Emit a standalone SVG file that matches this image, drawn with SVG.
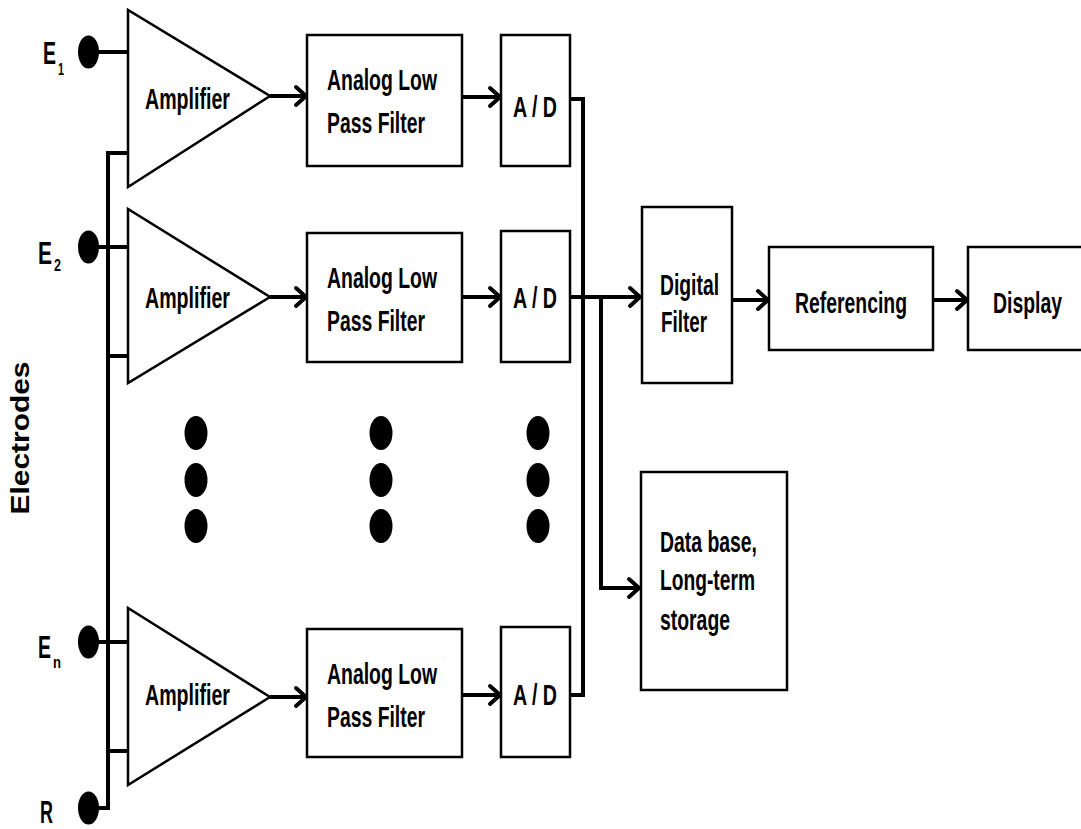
<svg xmlns="http://www.w3.org/2000/svg" width="1081" height="829" viewBox="0 0 1081 829">
<defs>
<style>
.box{fill:#fff;stroke:#000;stroke-width:2.5}
.tri{fill:#fff;stroke:#000;stroke-width:2.5;stroke-linejoin:miter}
.t{font-family:"Liberation Sans",Arial,sans-serif;font-weight:bold;font-size:30px;fill:#000}
.lbl{font-family:"Liberation Sans",Arial,sans-serif;font-weight:bold;font-size:32px;fill:#000}
.sub{font-family:"Liberation Sans",Arial,sans-serif;font-weight:bold;font-size:17px;fill:#000}
.w{fill:none;stroke:#000;stroke-width:4}
.a{fill:none;stroke:#000;stroke-width:4;marker-end:url(#arr)}
.dot{fill:#000}
</style>
<marker id="arr" viewBox="0 0 16 24" refX="13" refY="12" markerWidth="16" markerHeight="24" markerUnits="userSpaceOnUse" orient="auto">
<path d="M3,3 L13,12 L3,21" fill="none" stroke="#000" stroke-width="4" stroke-linecap="round" stroke-linejoin="round"/>
</marker>
</defs>
<rect width="1081" height="829" fill="#fff"/>

<g id="connectors">
<line class="w" x1="88" y1="52" x2="128" y2="52"/>
<path class="w" d="M128,153 H108 V808 H88"/>
<line class="w" x1="88" y1="247" x2="128" y2="247"/>
<line class="w" x1="108" y1="356" x2="128" y2="356"/>
<line class="w" x1="88" y1="642" x2="128" y2="642"/>
<line class="w" x1="108" y1="751" x2="128" y2="751"/>
<line class="a" x1="270" y1="96" x2="306" y2="96"/>
<line class="a" x1="270" y1="297" x2="306" y2="297"/>
<line class="a" x1="270" y1="697" x2="306" y2="697"/>
<line class="a" x1="462" y1="97" x2="500" y2="97"/>
<line class="a" x1="462" y1="297" x2="500" y2="297"/>
<line class="a" x1="462" y1="695" x2="500" y2="695"/>
<path class="w" d="M570,99 H583 V695 H570"/>
<line class="a" x1="570" y1="297" x2="640" y2="297"/>
<path class="a" d="M601,297 V588 H639"/>
<line class="a" x1="732" y1="300" x2="768" y2="300"/>
<line class="a" x1="933" y1="300" x2="967" y2="300"/>
</g>

<g id="electrodes">
<text class="lbl" transform="translate(29,438) rotate(-90)" text-anchor="middle" style="font-size:25px" textLength="153" lengthAdjust="spacingAndGlyphs">Electrodes</text>
</g>

<g id="e1">
<ellipse class="dot" cx="88.5" cy="52" rx="10.5" ry="16.5"/>
<text class="lbl" x="43" y="64" textLength="13" lengthAdjust="spacingAndGlyphs">E</text>
<text class="sub" x="58" y="75" textLength="6" lengthAdjust="spacingAndGlyphs">1</text>
</g>
<g id="e2">
<ellipse class="dot" cx="88.5" cy="247" rx="10.5" ry="16.5"/>
<text class="lbl" x="38" y="264" textLength="14" lengthAdjust="spacingAndGlyphs">E</text>
<text class="sub" x="54" y="271" textLength="7" lengthAdjust="spacingAndGlyphs">2</text>
</g>
<g id="en">
<ellipse class="dot" cx="88.5" cy="642" rx="10.5" ry="16.5"/>
<text class="lbl" x="38" y="658" textLength="13" lengthAdjust="spacingAndGlyphs">E</text>
<text class="sub" x="53" y="668" textLength="8" lengthAdjust="spacingAndGlyphs">n</text>
</g>
<g id="r">
<ellipse class="dot" cx="88.5" cy="808" rx="10.5" ry="16.5"/>
<text class="lbl" x="40" y="823" textLength="13" lengthAdjust="spacingAndGlyphs">R</text>
</g>

<g id="amp1">
<polygon class="tri" points="128,10 128,187 270,96"/>
<text class="t" x="145" y="109" textLength="85" lengthAdjust="spacingAndGlyphs">Amplifier</text>
</g>
<g id="amp2">
<polygon class="tri" points="128,209 128,383 270,297"/>
<text class="t" x="145" y="308" textLength="85" lengthAdjust="spacingAndGlyphs">Amplifier</text>
</g>
<g id="ampn">
<polygon class="tri" points="128,608 128,785 270,697"/>
<text class="t" x="145" y="705" textLength="85" lengthAdjust="spacingAndGlyphs">Amplifier</text>
</g>

<g id="lpf1">
<rect class="box" x="307" y="35" width="155" height="131"/>
<text class="t" x="327" y="90" textLength="110" lengthAdjust="spacingAndGlyphs">Analog Low</text>
<text class="t" x="327" y="133" textLength="98" lengthAdjust="spacingAndGlyphs">Pass Filter</text>
</g>
<g id="lpf2">
<rect class="box" x="307" y="233" width="155" height="129"/>
<text class="t" x="327" y="288" textLength="110" lengthAdjust="spacingAndGlyphs">Analog Low</text>
<text class="t" x="327" y="331" textLength="98" lengthAdjust="spacingAndGlyphs">Pass Filter</text>
</g>
<g id="lpfn">
<rect class="box" x="307" y="629" width="155" height="128"/>
<text class="t" x="327" y="684" textLength="110" lengthAdjust="spacingAndGlyphs">Analog Low</text>
<text class="t" x="327" y="727" textLength="98" lengthAdjust="spacingAndGlyphs">Pass Filter</text>
</g>

<g id="ad1">
<rect class="box" x="501" y="35" width="69" height="131"/>
<text class="t" x="513" y="117" textLength="44" lengthAdjust="spacingAndGlyphs">A / D</text>
</g>
<g id="ad2">
<rect class="box" x="501" y="231" width="69" height="131"/>
<text class="t" x="513" y="308" textLength="44" lengthAdjust="spacingAndGlyphs">A / D</text>
</g>
<g id="adn">
<rect class="box" x="501" y="627" width="69" height="130"/>
<text class="t" x="513" y="705" textLength="44" lengthAdjust="spacingAndGlyphs">A / D</text>
</g>

<g id="ellipsis">
<ellipse class="dot" cx="196" cy="433" rx="11.5" ry="17"/>
<ellipse class="dot" cx="196" cy="480" rx="11.5" ry="17"/>
<ellipse class="dot" cx="196" cy="526" rx="11.5" ry="17"/>
<ellipse class="dot" cx="381" cy="433" rx="11.5" ry="17"/>
<ellipse class="dot" cx="381" cy="480" rx="11.5" ry="17"/>
<ellipse class="dot" cx="381" cy="526" rx="11.5" ry="17"/>
<ellipse class="dot" cx="538" cy="433" rx="11.5" ry="17"/>
<ellipse class="dot" cx="538" cy="480" rx="11.5" ry="17"/>
<ellipse class="dot" cx="538" cy="526" rx="11.5" ry="17"/>
</g>

<g id="digital-filter">
<rect class="box" x="642" y="207" width="90" height="176"/>
<text class="t" x="660" y="295" textLength="59" lengthAdjust="spacingAndGlyphs">Digital</text>
<text class="t" x="661" y="332" textLength="46" lengthAdjust="spacingAndGlyphs">Filter</text>
</g>
<g id="referencing">
<rect class="box" x="769" y="247" width="164" height="103"/>
<text class="t" x="795" y="313" textLength="112" lengthAdjust="spacingAndGlyphs">Referencing</text>
</g>
<g id="display">
<rect class="box" x="968" y="247" width="120" height="103"/>
<text class="t" x="993" y="313" textLength="69" lengthAdjust="spacingAndGlyphs">Display</text>
</g>
<g id="database">
<rect class="box" x="641" y="472" width="146" height="218"/>
<text class="t" x="660" y="552" textLength="97" lengthAdjust="spacingAndGlyphs">Data base,</text>
<text class="t" x="660" y="590" textLength="95" lengthAdjust="spacingAndGlyphs">Long-term</text>
<text class="t" x="660" y="630" textLength="70" lengthAdjust="spacingAndGlyphs">storage</text>
</g>
</svg>
